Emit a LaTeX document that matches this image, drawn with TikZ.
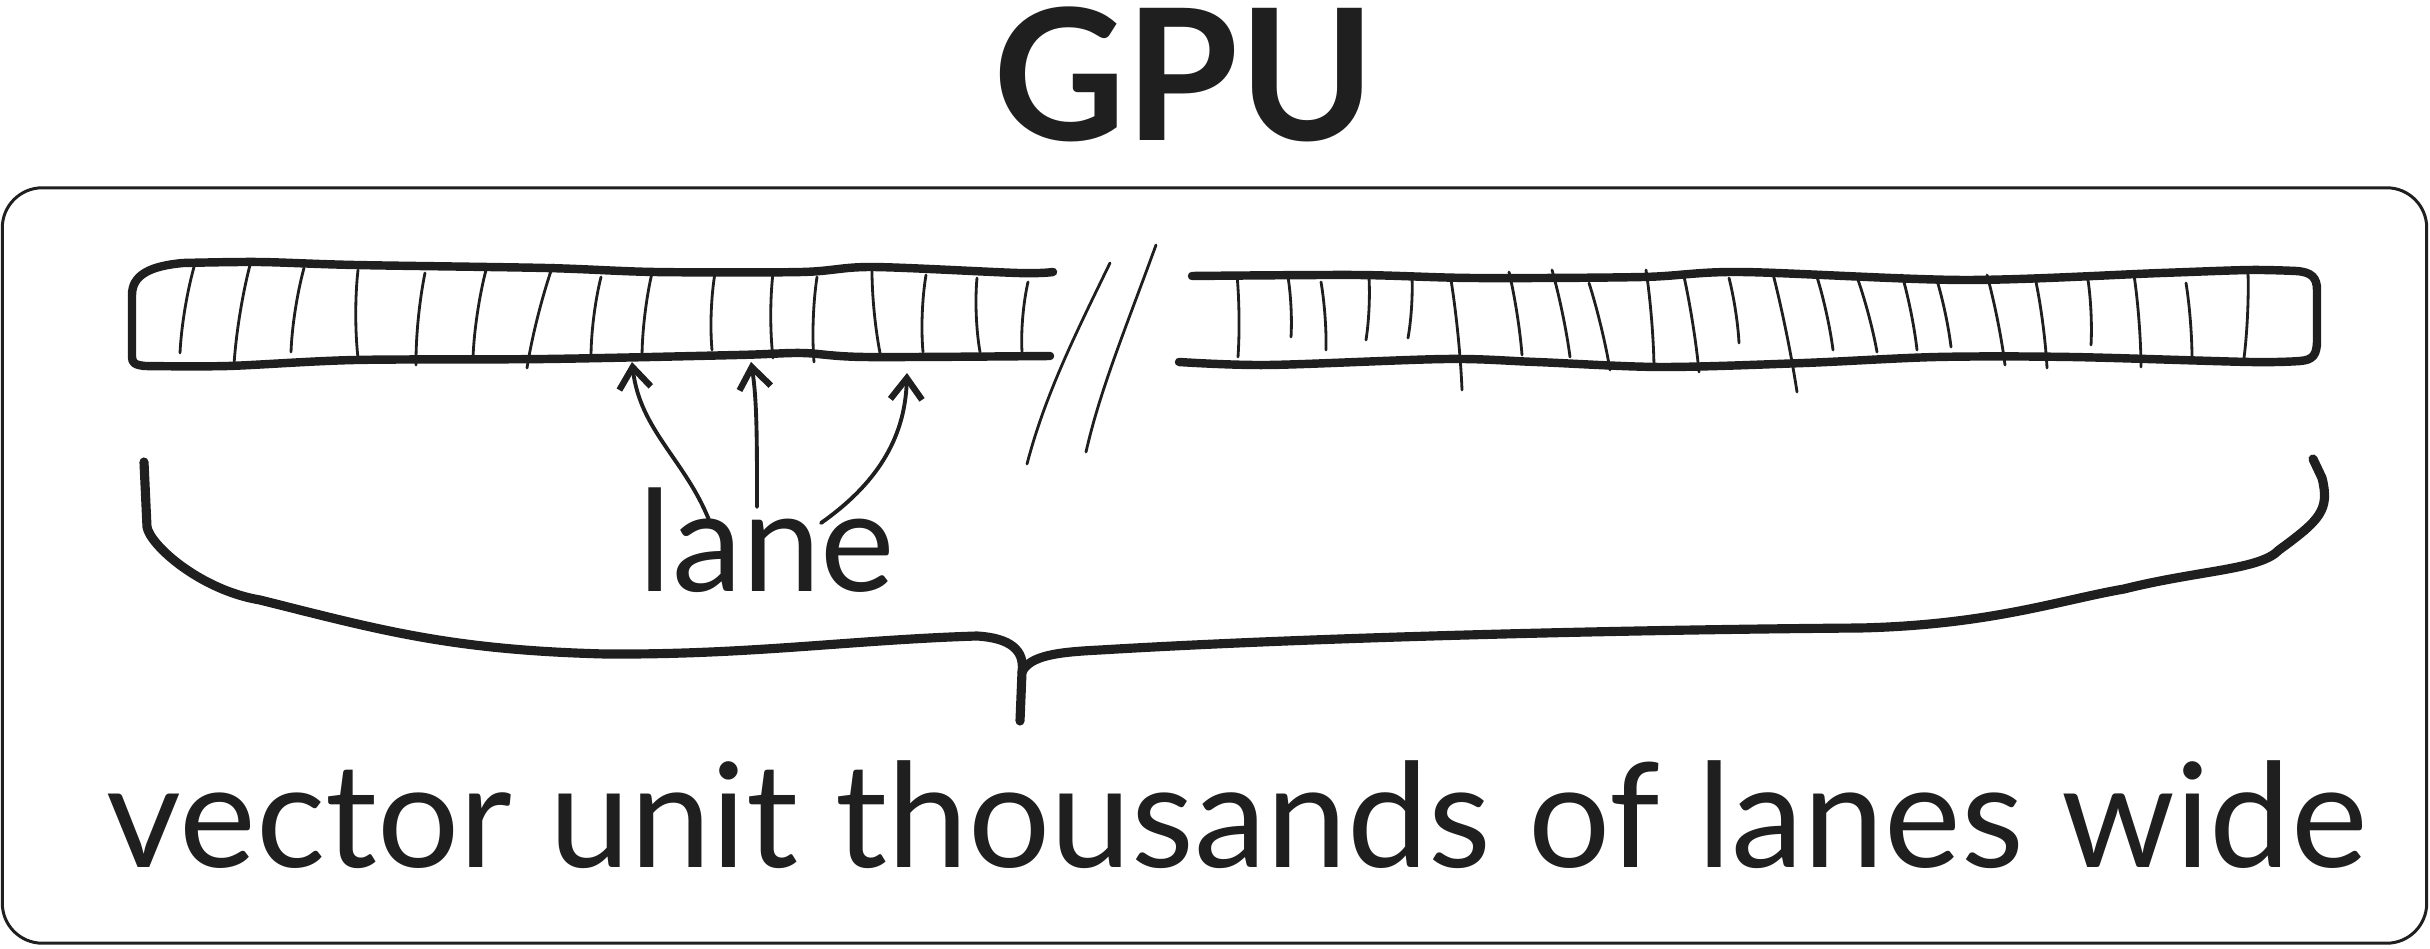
\documentclass[tikz,border=0pt]{standalone}
\usepackage{fontspec}
\setmainfont{Lato}
\usetikzlibrary{arrows.meta}
\tikzset{
  barline/.style={line width=2.4pt, line cap=round, line join=round},
  laneline/.style={line width=0.8pt, line cap=round},
  slashline/.style={line width=0.8pt, line cap=round},
  bracel/.style={line width=2.6pt, line cap=round, line join=round},
  lanearrow/.style={line width=1.1pt, line cap=round,
     -{Straight Barb[length=6pt,width=9pt,line width=1.8pt]}},
  frame/.style={draw, line width=0.85pt, rounded corners=0.4cm},
  label/.style={inner sep=0pt, text=black!88}
}
\begin{document}
\begin{tikzpicture}[x=0.01cm, y=-0.01cm, color=black!88]
\useasboundingbox (0,0) rectangle (2430,949);
\node[frame, minimum width=24.23cm, minimum height=7.55cm] (gpubox) at (1214.5,565.5) {};
\node[label, anchor=base, font=\bfseries\fontsize{52}{58}\selectfont] (gpu) at (1184,141) {GPU};

% left bar
\draw[barline] plot[smooth] coordinates {(1053,272) (1018,273) (872,267) (802,272) (655,272) (546,268) (355,265) (259,262) (183,263)}
  .. controls (150,266) and (132,275) .. (132,295) -- (132,357) .. controls (132,363) and (135,365) .. (145,366)
  plot[smooth] coordinates {(145,366) (228,366) (355,360) (546,359) (738,355) (802,353) (865,357) (1050,356)};
% left bar lanes
\foreach \xa/\ya/\xb/\yb in {194/267/180/353, 250/265/234/365, 304/268/291/352, 358/270/358/358,
  425/273/416/365, 486/270/473/358, 553/265/527/368, 601/277/591/357, 652/273/642/358,
  715/273/712/350, 773/273/773/358, 817/277/814/362, 872/267/881/358, 926/275/923/352,
  977/278/980/352, 1028/282/1022/352}
  \draw[laneline] (\xa,\ya) .. controls ({\xa*0.7+\xb*0.3-3},{\ya*0.7+\yb*0.3}) and ({\xa*0.3+\xb*0.7-3},{\ya*0.3+\yb*0.7}) .. (\xb,\yb);

% right bar
\draw[barline] plot[smooth] coordinates {(1192,276) (1357,275) (1473,278) (1643,277) (1741,272) (1964,280) (2161,273) (2250,270) (2296,271)}
  .. controls (2312,272) and (2317,278) .. (2317,290) -- (2317,340) .. controls (2317,355) and (2313,360) .. (2300,361)
  plot[smooth] coordinates {(2300,361) (2250,362) (2071,357) (1937,357) (1804,363) (1661,367) (1536,362) (1446,359) (1268,365) (1179,362)};
% right bar lanes
\foreach \xa/\ya/\xb/\yb in {1237/275/1238/357, 1288/277/1291/337, 1321/282/1326/350, 1369/278/1366/340,
  1412/278/1408/338, 1451/280/1462/390, 1509/272/1522/355, 1552/270/1570/357, 1589/283/1610/370,
  1646/270/1654/367, 1683/272/1699/372, 1729/278/1739/343, 1772/270/1797/392, 1817/277/1833/350,
  1857/277/1877/352, 1902/275/1917/350, 1936/277/1951/347, 1987/275/2005/365, 2036/282/2047/368,
  2088/280/2091/345, 2134/275/2141/367, 2186/283/2192/362, 2248/273/2244/358}
  \draw[laneline] (\xa,\ya) .. controls ({\xa*0.7+\xb*0.3+2},{\ya*0.7+\yb*0.3}) and ({\xa*0.3+\xb*0.7+2},{\ya*0.3+\yb*0.7}) .. (\xb,\yb);

% break marks
\coordinate (s1t) at (1110,263); \coordinate (s1b) at (1027,464);
\coordinate (s2t) at (1156,245); \coordinate (s2b) at (1086,452);
\draw[slashline] (s1t) .. controls (1075,335) and (1045,395) .. (s1b);
\draw[slashline] (s2t) .. controls (1125,330) and (1100,390) .. (s2b);

% lane label and arrows
\node[label] (lane) at (767,540) {\resizebox{2.56cm}{!}{\fontsize{40}{44}\selectfont lane}};
\coordinate (a1s) at (709,520); \coordinate (a1e) at (632,362);
\coordinate (a2s) at (757,507); \coordinate (a2e) at (751,362);
\coordinate (a3s) at (821,523); \coordinate (a3e) at (907,373);
\draw[lanearrow] (a1s) .. controls (685,460) and (640,430) .. (a1e);
\draw[lanearrow] (a2s) .. controls (757,440) and (757,400) .. (a2e);
\draw[lanearrow] (a3s) .. controls (875,485) and (905,440) .. (a3e);

% brace
\coordinate (bl) at (144,462); \coordinate (br) at (2313,459); \coordinate (btip) at (1020,721);
\draw[bracel] (bl) -- (147,527) .. controls (150,545) and (200,590) .. (260,600)
  .. controls (380,630) and (450,650) .. (605,654)
  .. controls (750,655) and (850,640) .. (977,636)
  .. controls (1010,638) and (1025,650) .. (1022,672) -- (btip);
\draw[bracel] (1022,672) .. controls (1030,655) and (1060,652) .. (1100,650)
  .. controls (1300,638) and (1600,630) .. (1860,628)
  .. controls (1990,625) and (2060,600) .. (2124,589)
  .. controls (2200,570) and (2260,570) .. (2279,550)
  .. controls (2320,520) and (2330,510) .. (2322,478) -- (br);

% bottom label
\node[label] (caption) at (1237,815) {\resizebox{22.59cm}{!}{\fontsize{40}{44}\selectfont vector unit thousands of lanes wide}};
\end{tikzpicture}
\end{document}
